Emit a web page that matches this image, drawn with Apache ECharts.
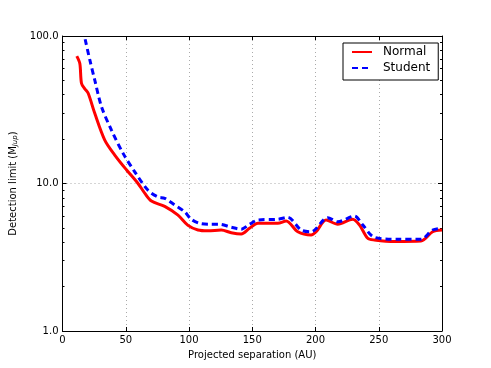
<!DOCTYPE html>
<html>
<head>
<meta charset="utf-8">
<script src="https://cdn.jsdelivr.net/npm/echarts@6/dist/echarts.min.js"></script>
<style>html,body{margin:0;padding:0;background:#fff}#c{width:491px;height:368px}</style>
</head>
<body>
<div id="c"></div>
<script>
var xTicks = [0, 50, 100, 150, 200, 250, 300];
var yMajor = [1, 10, 100];
var yMinor = [2, 3, 4, 5, 6, 7, 8, 9, 20, 30, 40, 50, 60, 70, 80, 90];

var normalSep = [11.3, 13.7, 15, 17.5, 20.3, 25.5, 33.4, 41.3, 50.5, 59.7, 65, 70.3, 80.8, 91.3, 99.2, 107.1, 115, 125.5, 133.4, 141.3, 147.8, 154.5, 170.2, 176.8, 186, 196.5, 200.5, 208.4, 217.6, 229.4, 234.7, 241.3, 246.5, 262.3, 283.4, 292.6, 300];
var normalLimit = [73, 65, 47.8, 44, 40.9, 29.9, 19.7, 15.6, 12.4, 10.0, 8.6, 7.6, 7.0, 6.1, 5.2, 4.84, 4.78, 4.84, 4.64, 4.55, 4.97, 5.37, 5.37, 5.57, 4.71, 4.48, 4.71, 5.66, 5.29, 5.72, 5.24, 4.25, 4.14, 4.04, 4.07, 4.71, 4.84];

var studentSep = [17.9, 21.6, 25.5, 30.8, 38.7, 47.9, 57.1, 67.6, 75.5, 80.8, 88.7, 96.5, 101.8, 108.4, 116.3, 124.2, 133.4, 141.3, 147.8, 154.5, 170.2, 178, 188.6, 196.5, 209.7, 217.6, 230.8, 237.3, 246.5, 265, 283.4, 292.6, 300];
var studentLimit = [95, 68.8, 50.3, 33.2, 23, 16, 12.0, 9.0, 8.1, 7.94, 7.15, 6.44, 5.72, 5.37, 5.29, 5.29, 5.05, 4.9, 5.29, 5.66, 5.72, 5.9, 4.84, 4.71, 5.87, 5.5, 6.02, 5.24, 4.32, 4.19, 4.19, 4.84, 4.97];

function pairs(xs, ys) { return xs.map(function (x, i) { return [x, ys[i]]; }); }

var FONT = 'DejaVu Sans';
var chart = echarts.init(document.getElementById('c'), null, { renderer: 'canvas' });

function yAx(pos, ticks, len, main) {
  return {
    type: 'log', logBase: 10, min: 1, max: 100, position: pos,
    axisLine: { show: main, lineStyle: { color: '#000', width: 1 } },
    axisTick: { show: true, inside: true, length: len, customValues: ticks, lineStyle: { color: '#000', width: 1 } },
    axisLabel: { show: main && pos === 'left', customValues: yMajor, margin: 4, fontFamily: FONT, fontSize: 10, color: '#000',
      formatter: function (v) { return Number(v).toFixed(1); } },
    splitLine: { show: main && pos === 'left', lineStyle: { color: '#aaa', type: [1, 3], width: 1 } },
    minorTick: { show: false }
  };
}

var option = {
  animation: false,
  backgroundColor: '#fff',
  grid: { left: 61, right: 49, top: 36, bottom: 37, containLabel: false },
  legend: {
    left: 343, top: 43, orient: 'vertical',
    data: ['Normal', 'Student'],
    itemWidth: 20, itemHeight: 14, itemGap: 4,
    padding: [3, 8, 6, 8],
    borderColor: '#000', borderWidth: 1, borderRadius: 0,
    backgroundColor: '#fff',
    itemStyle: { opacity: 0, borderWidth: 0 },
    textStyle: { fontFamily: FONT, fontSize: 12, color: '#000', padding: [0, 0, 0, 6] }
  },
  xAxis: [
    {
      type: 'value', min: 0, max: 300, interval: 50, position: 'bottom',
      axisLine: { show: true, onZero: false, lineStyle: { color: '#000', width: 1 } },
      axisTick: { show: true, inside: true, length: 4, lineStyle: { color: '#000' } },
      axisLabel: { margin: 4, fontFamily: FONT, fontSize: 10, color: '#000', customValues: xTicks },
      splitLine: { show: true, lineStyle: { color: '#aaa', type: [1, 3], width: 1 } },
      name: 'Projected separation (AU)', nameLocation: 'middle', nameGap: 19,
      nameTextStyle: { fontFamily: FONT, fontSize: 10, color: '#000' }
    },
    {
      type: 'value', min: 0, max: 300, interval: 50, position: 'top',
      axisLine: { show: true, onZero: false, lineStyle: { color: '#000', width: 1 } },
      axisTick: { show: true, inside: true, length: 4, lineStyle: { color: '#000' } },
      axisLabel: { show: false }, splitLine: { show: false }
    }
  ],
  yAxis: [
    Object.assign(yAx('left', yMajor, 4, true), {
      name: 'Detection limit (M{sub|Jup})', nameLocation: 'middle', nameRotate: 90, nameGap: 44,
      nameTextStyle: { fontFamily: FONT, fontSize: 10, color: '#000',
        rich: { sub: { fontFamily: FONT, fontSize: 7, fontStyle: 'italic', color: '#000', verticalAlign: 'bottom', padding: [4, 0, 0, 0] } } }
    }),
    yAx('left', yMinor, 2, false),
    yAx('right', yMajor, 4, true),
    yAx('right', yMinor, 2, false)
  ],
  series: [
    {
      name: 'Normal', type: 'line', xAxisIndex: 0, yAxisIndex: 0,
      data: pairs(normalSep, normalLimit), smooth: 0.3, symbol: 'none',
      lineStyle: { color: '#ff0000', width: 3 }, itemStyle: { color: '#ff0000' }, z: 3
    },
    {
      name: 'Student', type: 'line', xAxisIndex: 0, yAxisIndex: 0,
      data: pairs(studentSep, studentLimit), smooth: 0.3, symbol: 'none',
      lineStyle: { color: '#0000ff', width: 3, type: [6, 4] }, itemStyle: { color: '#0000ff' }, z: 4
    }
  ]
};
chart.setOption(option);
</script>
</body>
</html>
